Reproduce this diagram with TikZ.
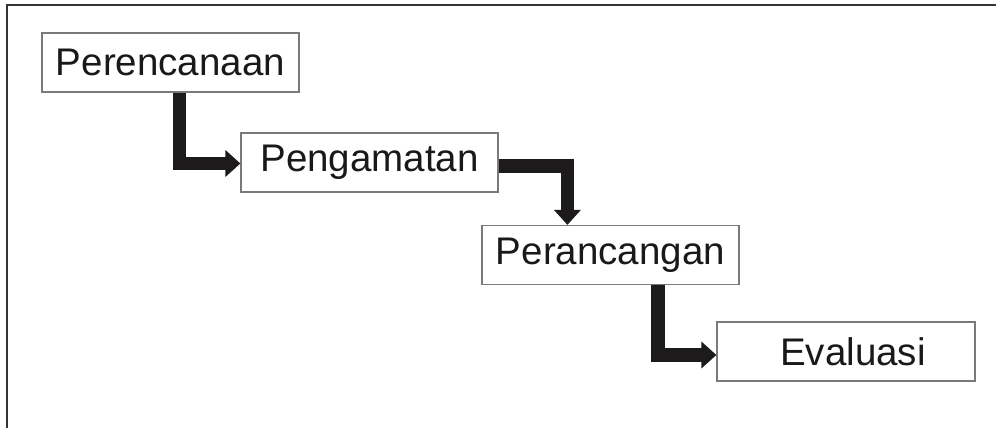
\documentclass[tikz,border=0pt]{standalone}
\usepackage{fontspec}
\setmainfont{Liberation Sans}
\usetikzlibrary{arrows.meta}
\definecolor{framegray}{HTML}{333333}
\definecolor{boxgray}{HTML}{7A7A7A}
\definecolor{flowblack}{HTML}{1C1A1A}
\tikzset{
  stage/.style={draw=boxgray, line width=1.2pt, fill=white,
    minimum width=257pt, minimum height=59pt, inner sep=0pt,
    font=\fontsize{38.5}{40}\selectfont, text=black!90},
  flow/.style={draw=flowblack, line width=13.5pt, line join=miter,
    -{Triangle[width=26pt,length=15pt]}}
}
\begin{document}
\begin{tikzpicture}[x=1pt,y=-1pt]
  \useasboundingbox (0,0) rectangle (996,428);
  % outer frame: top and left edges only
  \draw[framegray, line width=2pt] (7,428) -- (7,5) -- (996,5);

  % process stages
  \node[stage] (p1) at (170.5,62.5) {Perencanaan};
  \node[stage] (p2) at (369.5,162.5) {Pengamatan};
  \node[stage] (p3) at (610.5,255) {Perancangan};
  \node[stage, minimum width=258pt] (p4) at (846,351.5) {\hspace*{14pt}Evaluasi};

  % stepped connectors
  \draw[flow] ([xshift=138pt]p1.south west) |- ([yshift=-1pt]p2.west);
  \draw[flow] ([yshift=-3.5pt]p2.east) -| ([xshift=86pt]p3.north west);
  \draw[flow] ([xshift=176.5pt]p3.south west) |- ([yshift=-3.5pt]p4.west);
\end{tikzpicture}
\end{document}
